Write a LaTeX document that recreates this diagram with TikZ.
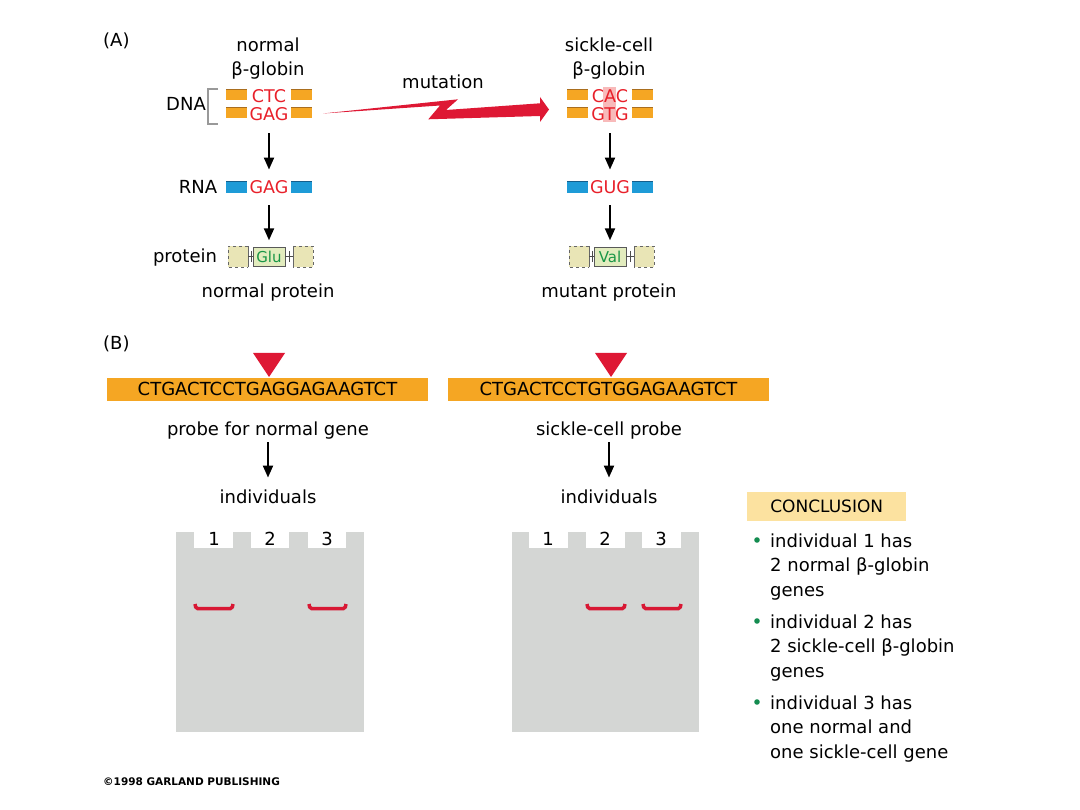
\documentclass[tikz,border=0pt]{standalone}
\usepackage{fontspec}
\setmainfont{DejaVu Sans}
\usetikzlibrary{arrows.meta, positioning}

\definecolor{dnaorange}{RGB}{245,166,35}
\definecolor{dnaedge}{RGB}{170,110,30}
\definecolor{rnablue}{RGB}{30,155,215}
\definecolor{rnaedge}{RGB}{20,95,140}
\definecolor{seqred}{RGB}{232,32,42}
\definecolor{mutred}{RGB}{222,24,52}
\definecolor{hilite}{RGB}{248,186,186}
\definecolor{protfill}{RGB}{233,229,182}
\definecolor{aafill}{RGB}{226,236,190}
\definecolor{aagreen}{RGB}{25,150,70}
\definecolor{gelgray}{RGB}{212,214,212}
\definecolor{bandred}{RGB}{216,24,52}
\definecolor{conclfill}{RGB}{252,226,160}
\definecolor{dotgreen}{RGB}{20,140,80}

\begin{document}
\begin{tikzpicture}[
  x=1pt, y=-1pt,
  every node/.style={font=\fontsize{18}{24.5}\selectfont, inner sep=0pt},
  txt/.style={text height=12.5pt, text depth=0pt},
  seq/.style={txt, text=seqred, font=\fontsize{17.5}{20}\selectfont},
  flow/.style={line width=2pt, -{Triangle[length=12pt,width=10pt]}},
  dnabar/.style={fill=dnaorange},
  rnabar/.style={fill=rnablue},
  aabox/.style={txt, draw=gray!70!black, fill=aafill, text=aagreen,
    minimum width=32pt, minimum height=19pt, font=\fontsize{15}{18}\selectfont},
  stub/.style={fill=protfill},
  link/.style={draw=gray!60!black, line width=0.9pt},
  probe/.style={txt, fill=dnaorange, minimum width=321pt, minimum height=23pt},
  band/.style={draw=bandred, line width=3.5pt, rounded corners=1.5pt},
  bullet/.style={align=left, anchor=north west}
]
\useasboundingbox (0,0) rectangle (1080,810);

% ---------- (A) ----------
\node[txt, anchor=west] (labA) at (103,40) {(A)};

% normal gene
\node[txt] (normT) at (268,45) {normal};
\node[txt] (globT) at (268,69) {β-globin};
\node[txt] (dnaT) at (186,104) {DNA};
\draw[gray!80, line width=1.5pt] (218,89) -- (208,89) -- (208,124) -- (218,124);
\fill[dnabar] (226,89) rectangle (247,100);
\fill[dnabar] (226,107) rectangle (247,118);
\fill[dnabar] (291,89) rectangle (312,100);
\fill[dnabar] (291,107) rectangle (312,118);
\draw[dnaedge] (226,89) -- (247,89) (226,107) -- (247,107) (291,89) -- (312,89) (291,107) -- (312,107);
\node[seq] (ctcN) at (269,96) {CTC};
\node[seq] (gagN) at (269,114) {GAG};

\node[txt] (rnaT) at (198,187) {RNA};
\fill[rnabar] (226,181) rectangle (247,193);
\fill[rnabar] (291,181) rectangle (312,193);
\draw[rnaedge] (226,181) -- (247,181) (291,181) -- (312,181);
\node[seq] (rnaN) at (269,187) {GAG};

\node[txt] (protT) at (185,256) {protein};
\fill[stub] (228,246) rectangle (248,267);
\draw[gray!80!black, dashed] (248,246) -- (228,246) -- (228,267) -- (248,267);
\draw[gray!80!black] (248,246) -- (248,267);
\fill[stub] (293,246) rectangle (313,267);
\draw[gray!80!black, dashed] (293,246) -- (313,246) -- (313,267) -- (293,267);
\draw[gray!80!black] (293,246) -- (293,267);
\node[aabox] (gluN) at (269,256.5) {Glu};
\draw[link] (248,256.5) -- (gluN.west) (251.5,251) -- (251.5,262);
\draw[link] (gluN.east) -- (293,256.5) (289.5,251) -- (289.5,262);
\node[txt] (normP) at (268,291) {normal protein};

\draw[flow] ([yshift=-13pt]gagN.south) -- ([yshift=11pt]rnaN.north);
\draw[flow] ([yshift=-12pt]rnaN.south) -- ([yshift=6.5pt]gluN.north);

% mutation
\node[txt] (mutT) at (443,82) {mutation};
\fill[mutred] (323,113.5) -- (458,99.3) -- (446,110) -- (540,103.3) -- (540,97) -- (549,109.5)
  -- (540,122) -- (540,116) -- (428.3,119.3) -- (440,105.5) -- cycle;

% sickle-cell gene
\node[txt] (sickT) at (609,45) {sickle-cell};
\node[txt] (globS) at (609,69) {β-globin};
\fill[hilite] (603,87) rectangle (616,122);
\fill[dnabar] (567,89) rectangle (588,100);
\fill[dnabar] (567,107) rectangle (588,118);
\fill[dnabar] (632,89) rectangle (653,100);
\fill[dnabar] (632,107) rectangle (653,118);
\draw[dnaedge] (567,89) -- (588,89) (567,107) -- (588,107) (632,89) -- (653,89) (632,107) -- (653,107);
\node[seq] (cacN) at (610,96) {CAC};
\node[seq] (gtgN) at (610,114) {GTG};

\fill[rnabar] (567,181) rectangle (588,193);
\fill[rnabar] (632,181) rectangle (653,193);
\draw[rnaedge] (567,181) -- (588,181) (632,181) -- (653,181);
\node[seq] (gugN) at (610,187) {GUG};

\fill[stub] (569,246) rectangle (589,267);
\draw[gray!80!black, dashed] (589,246) -- (569,246) -- (569,267) -- (589,267);
\draw[gray!80!black] (589,246) -- (589,267);
\fill[stub] (634,246) rectangle (654,267);
\draw[gray!80!black, dashed] (634,246) -- (654,246) -- (654,267) -- (634,267);
\draw[gray!80!black] (634,246) -- (634,267);
\node[aabox] (valN) at (610,256.5) {Val};
\draw[link] (589,256.5) -- (valN.west) (592.5,251) -- (592.5,262);
\draw[link] (valN.east) -- (634,256.5) (630.5,251) -- (630.5,262);
\node[txt] (mutP) at (609,291) {mutant protein};

\draw[flow] ([yshift=-13pt]gtgN.south) -- ([yshift=11pt]gugN.north);
\draw[flow] ([yshift=-12pt]gugN.south) -- ([yshift=6.5pt]valN.north);

% ---------- (B) ----------
\node[txt, anchor=west] (labB) at (103,343) {(B)};

\node[probe] (probeN) at (267.5,389.5) {CTGACTCCTGAGGAGAAGTCT};
\node[probe] (probeS) at (608.5,389.5) {CTGACTCCTGTGGAGAAGTCT};
\fill[mutred] (253,353) -- (285,353) -- (269,377) -- cycle;
\fill[mutred] (595,353) -- (627,353) -- (611,377) -- cycle;

\node[txt] (pnT) at (268,429) {probe for normal gene};
\node[txt] (psT) at (609,429) {sickle-cell probe};
\node[txt] (indN) at (268,497) {individuals};
\node[txt] (indS) at (609,497) {individuals};
\draw[flow] ([yshift=-7pt]pnT.south) -- ([yshift=13pt]indN.north);
\draw[flow] ([yshift=-7pt]psT.south) -- ([yshift=13pt]indS.north);

% gel, normal probe
\fill[gelgray] (176,532) rectangle (364,732);
\fill[white] (194,532) rectangle (233,548);
\fill[white] (251,532) rectangle (289,548);
\fill[white] (308,532) rectangle (346,548);
\node[txt] (gn1) at (214,539) {1};
\node[txt] (gn2) at (270,539) {2};
\node[txt] (gn3) at (327,539) {3};
\draw[band] (195,604) -- (196,608.5) -- (232,608.5) -- (233,604);
\draw[band] (309,604) -- (310,608.5) -- (345,608.5) -- (346,604);

% gel, sickle-cell probe
\fill[gelgray] (512,532) rectangle (699,732);
\fill[white] (529,532) rectangle (568,548);
\fill[white] (586,532) rectangle (625,548);
\fill[white] (642,532) rectangle (681,548);
\node[txt] (gs1) at (548,539) {1};
\node[txt] (gs2) at (605,539) {2};
\node[txt] (gs3) at (661,539) {3};
\draw[band] (587,604) -- (588,608.5) -- (624,608.5) -- (625,604);
\draw[band] (643,604) -- (644,608.5) -- (680,608.5) -- (681,604);

% conclusion
\node[txt, fill=conclfill, minimum width=159pt, minimum height=29pt, anchor=west,
  font=\fontsize{17}{20}\selectfont] (conclN) at (747,506.5) {CONCLUSION};
\fill[dotgreen] (757,540) circle (2.8);
\fill[dotgreen] (757,621) circle (2.8);
\fill[dotgreen] (757,702) circle (2.8);
\node[bullet] (c1) at (770,533.5) {individual 1 has\\2 normal β-globin\\genes};
\node[bullet] (c2) at (770,614.5) {individual 2 has\\2 sickle-cell β-globin\\genes};
\node[bullet] (c3) at (770,695.5) {individual 3 has\\one normal and\\one sickle-cell gene};

\node[anchor=west, font=\fontsize{10.5}{12}\selectfont\bfseries] (copyN) at (103,782) {©1998 GARLAND PUBLISHING};
\end{tikzpicture}
\end{document}
